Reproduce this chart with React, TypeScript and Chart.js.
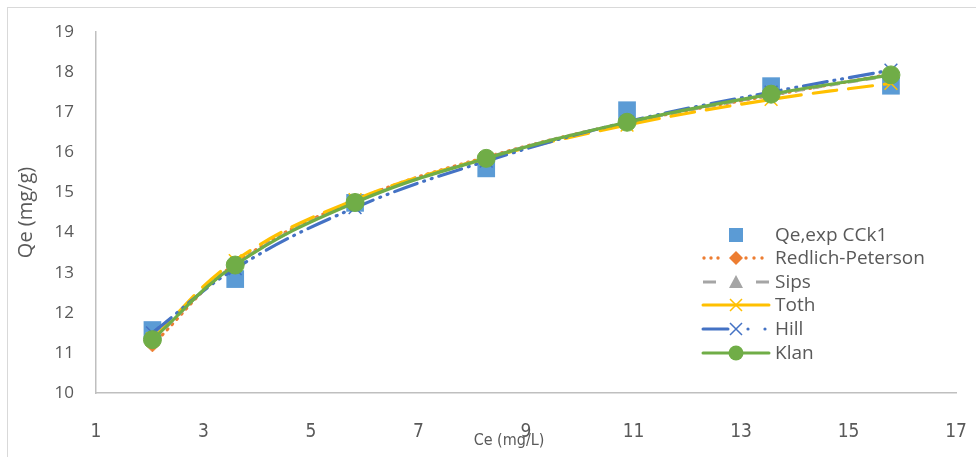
import React, { useEffect, useRef } from "react";
import { Chart, registerables } from "chart.js";

Chart.register(...registerables);

const ceValues = [2.05, 3.59, 5.82, 8.26, 10.88, 13.56, 15.79];
const qeExp = [11.57, 12.84, 14.74, 15.6, 17.05, 17.65, 17.66];
const redlichPeterson = [11.2, 13.22, 14.8, 15.88, 16.74, 17.42, 17.95];
const sips = [11.32, 13.2, 14.76, 15.86, 16.74, 17.43, 17.92];
const toth = [11.35, 13.3, 14.82, 15.85, 16.68, 17.32, 17.72];
const hill = [11.5, 13.1, 14.62, 15.78, 16.76, 17.5, 18.05];
const klan = [11.33, 13.19, 14.75, 15.85, 16.75, 17.45, 17.93];

const seriesNames = ["Qe,exp CCk1", "Redlich-Peterson", "Sips", "Toth", "Hill", "Klan"];
const xTicks = [1, 3, 5, 7, 9, 11, 13, 15, 17];
const yMin = 10;
const yMax = 19;

const toPts = (ys: number[]) => ys.map((y, i) => ({ x: ceValues[i], y }));

type LegendSpec = {
  name: string;
  color: string;
  marker: "square" | "diamond" | "triangle" | "cross" | "circle";
};

const legendSpecs: LegendSpec[] = [
  { name: seriesNames[0], color: "#5B9BD5", marker: "square" },
  { name: seriesNames[1], color: "#ED7D31", marker: "diamond" },
  { name: seriesNames[2], color: "#A5A5A5", marker: "triangle" },
  { name: seriesNames[3], color: "#FFC000", marker: "cross" },
  { name: seriesNames[4], color: "#4472C4", marker: "cross" },
  { name: seriesNames[5], color: "#70AD47", marker: "circle" },
];

function drawMarker(ctx: CanvasRenderingContext2D, kind: string, x: number, y: number, color: string) {
  ctx.save();
  ctx.setLineDash([]);
  ctx.fillStyle = color;
  ctx.strokeStyle = color;
  ctx.beginPath();
  if (kind === "square") {
    ctx.rect(x - 7, y - 7, 14, 14);
    ctx.fill();
  } else if (kind === "diamond") {
    ctx.moveTo(x, y - 7);
    ctx.lineTo(x + 7, y);
    ctx.lineTo(x, y + 7);
    ctx.lineTo(x - 7, y);
    ctx.closePath();
    ctx.fill();
  } else if (kind === "triangle") {
    ctx.moveTo(x, y - 7);
    ctx.lineTo(x + 7, y + 6);
    ctx.lineTo(x - 7, y + 6);
    ctx.closePath();
    ctx.fill();
  } else if (kind === "cross") {
    ctx.lineWidth = 1.5;
    ctx.moveTo(x - 6, y - 6);
    ctx.lineTo(x + 6, y + 6);
    ctx.moveTo(x + 6, y - 6);
    ctx.lineTo(x - 6, y + 6);
    ctx.stroke();
  } else {
    ctx.arc(x, y, 7.5, 0, Math.PI * 2);
    ctx.fill();
  }
  ctx.restore();
}

const customPlugin = {
  id: "customLegendAndTitle",
  afterDraw(chart: any) {
    const ctx: CanvasRenderingContext2D = chart.ctx;
    ctx.save();
    // x axis title
    ctx.font = '16px "DejaVu Sans Condensed", "Open Sans", sans-serif';
    ctx.fillStyle = "#595959";
    ctx.textAlign = "center";
    ctx.textBaseline = "middle";
    ctx.fillText("Ce (mg/L)", 509, 441);

    // legend
    const x0 = 703;
    const x1 = 769;
    const xm = 736;
    const tx = 775;
    const rowY = [235, 258, 282, 305, 329, 353];
    ctx.font = '19px "Open Sans", sans-serif';
    ctx.textAlign = "left";
    legendSpecs.forEach((s, i) => {
      const y = rowY[i];
      ctx.save();
      ctx.strokeStyle = s.color;
      ctx.fillStyle = s.color;
      ctx.lineWidth = 3;
      ctx.lineCap = "round";
      if (s.name === "Hill") {
        ctx.beginPath();
        ctx.moveTo(x0, y);
        ctx.lineTo(xm - 8, y);
        ctx.stroke();
        ctx.beginPath();
        ctx.arc(xm + 12, y, 1.6, 0, Math.PI * 2);
        ctx.fill();
        ctx.beginPath();
        ctx.arc(x1 - 4, y, 1.6, 0, Math.PI * 2);
        ctx.fill();
      } else if (s.name === "Sips") {
        ctx.lineCap = "butt";
        ctx.beginPath();
        ctx.moveTo(x0, y);
        ctx.lineTo(x0 + 13, y);
        ctx.moveTo(x1 - 13, y);
        ctx.lineTo(x1, y);
        ctx.stroke();
      } else if (s.name === "Redlich-Peterson") {
        [x0 + 1, x0 + 8, x0 + 15, xm + 10, xm + 18, xm + 26].forEach((dx) => {
          ctx.beginPath();
          ctx.arc(dx, y, 1.7, 0, Math.PI * 2);
          ctx.fill();
        });
      } else if (s.name !== seriesNames[0]) {
        ctx.beginPath();
        ctx.moveTo(x0, y);
        ctx.lineTo(x1, y);
        ctx.stroke();
      }
      ctx.restore();
      drawMarker(ctx, s.marker, xm, y, s.color);
      ctx.fillStyle = "#595959";
      ctx.fillText(s.name, tx, y + 1);
    });
    ctx.restore();
  },
};

export default function App() {
  const canvasRef = useRef<HTMLCanvasElement | null>(null);

  useEffect(() => {
    if (!canvasRef.current) return;
    const lineBase = { showLine: true, tension: 0.4, borderWidth: 3.2, borderCapStyle: "round" as const };
    const chart = new Chart(canvasRef.current, {
      type: "scatter",
      data: {
        datasets: [
          {
            label: seriesNames[0],
            data: toPts(qeExp),
            showLine: false,
            pointStyle: "rect",
            pointRadius: 12.5,
            backgroundColor: "#5B9BD5",
            borderColor: "#5B9BD5",
            pointBorderWidth: 0,
            order: 5,
          },
          {
            ...lineBase,
            label: seriesNames[1],
            data: toPts(redlichPeterson),
            borderColor: "#ED7D31",
            backgroundColor: "#ED7D31",
            borderDash: [1, 6],
            pointStyle: "rectRot",
            pointRadius: 7,
            pointBorderWidth: 1,
            order: 4,
          },
          {
            ...lineBase,
            label: seriesNames[2],
            data: toPts(sips),
            borderColor: "#A5A5A5",
            backgroundColor: "#A5A5A5",
            borderDash: [10, 8],
            borderCapStyle: "butt",
            pointStyle: "triangle",
            pointRadius: 7,
            pointBorderWidth: 1,
            order: 3,
          },
          {
            ...lineBase,
            label: seriesNames[3],
            data: toPts(toth),
            borderColor: "#FFC000",
            backgroundColor: "#FFC000",
            borderDash: [24, 12],
            pointStyle: "crossRot",
            pointRadius: 9,
            pointBorderWidth: 1.5,
            order: 2,
          },
          {
            ...lineBase,
            label: seriesNames[4],
            data: toPts(hill),
            borderColor: "#4472C4",
            backgroundColor: "#4472C4",
            borderDash: [24, 7, 1, 7, 1, 7],
            pointStyle: "crossRot",
            pointRadius: 9,
            pointBorderWidth: 1.5,
            order: 1,
          },
          {
            ...lineBase,
            label: seriesNames[5],
            data: toPts(klan),
            borderColor: "#70AD47",
            backgroundColor: "#70AD47",
            pointStyle: "circle",
            pointRadius: 9,
            pointBorderWidth: 1,
            order: 0,
          },
        ],
      },
      options: {
        animation: false,
        responsive: false,
        maintainAspectRatio: false,
        layout: { padding: { left: 0, right: 20, top: 32, bottom: 0 } },
        plugins: {
          legend: { display: false },
          tooltip: { enabled: false },
        },
        scales: {
          x: {
            type: "linear",
            min: 1,
            max: 17,
            afterBuildTicks: (scale: any) => {
              scale.ticks = xTicks.map((v) => ({ value: v }));
            },
            afterFit: (scale: any) => {
              scale.height = 64;
              scale.paddingRight = 0;
              scale.paddingLeft = 0;
            },
            ticks: {
              color: "#595959",
              padding: 28,
              maxRotation: 0,
              autoSkip: false,
              font: { family: '"DejaVu Sans Condensed", "Open Sans", sans-serif', size: 19 },
            },
            grid: { display: true, drawOnChartArea: false, drawTicks: false },
            border: { display: true, color: "#BFBFBF", width: 1.5 },
          },
          y: {
            type: "linear",
            min: yMin,
            max: yMax,
            afterFit: (scale: any) => {
              scale.width = 96;
              scale.paddingTop = 0;
              scale.paddingBottom = 0;
            },
            ticks: {
              stepSize: 1,
              color: "#595959",
              padding: 22,
              font: { family: '"Open Sans", sans-serif', size: 17 },
            },
            title: {
              display: true,
              text: "Qe (mg/g)",
              color: "#595959",
              font: { family: '"Open Sans", sans-serif', size: 20 },
              padding: { top: 14, bottom: 0 },
            },
            grid: { display: true, drawOnChartArea: false, drawTicks: false },
            border: { display: true, color: "#BFBFBF", width: 1.5 },
          },
        },
      },
      plugins: [customPlugin],
    });
    return () => chart.destroy();
  }, []);

  return (
    <div
      style={{
        position: "absolute",
        left: 0,
        top: 0,
        width: 976,
        height: 457,
        overflow: "hidden",
        background: "#ffffff",
      }}
    >
      <div
        style={{
          position: "absolute",
          left: 7,
          top: 7,
          width: 1000,
          height: 500,
          border: "1px solid #D9D9D9",
        }}
      />
      <canvas ref={canvasRef} width={976} height={457} style={{ position: "absolute", left: 0, top: 0 }} />
    </div>
  );
}
